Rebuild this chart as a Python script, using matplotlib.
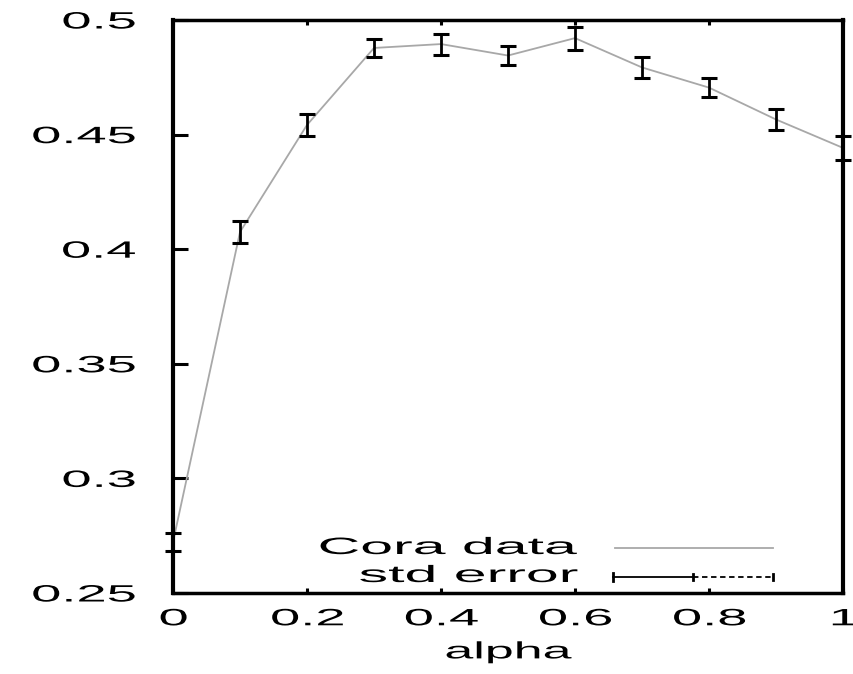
import matplotlib.pyplot as plt
from matplotlib.patheffects import AbstractPathEffect
from matplotlib.transforms import Affine2D
from matplotlib.lines import Line2D

# data
alpha = [0.0, 0.1, 0.2, 0.3, 0.4, 0.5, 0.6, 0.7, 0.8, 0.9, 1.0]
accuracy = [0.2722, 0.4075, 0.4542, 0.4878, 0.4895, 0.4845, 0.4921, 0.4793, 0.4705, 0.4566, 0.4442]
std_err = [0.0040, 0.0046, 0.0048, 0.0040, 0.0046, 0.0041, 0.0050, 0.0046, 0.0041, 0.0046, 0.0052]

xticks = [0, 0.2, 0.4, 0.6, 0.8, 1]
xtick_labels = ['0', '0.2', '0.4', '0.6', '0.8', '1']
yticks = [0.25, 0.3, 0.35, 0.4, 0.45, 0.5]
ytick_labels = ['0.25', '0.3', '0.35', '0.4', '0.45', '0.5']

W, H = 854, 674
FONT = 'Liberation Sans'
FS = 17


class Stretch(AbstractPathEffect):
    """draw text stretched horizontally (gnuplot style wide font)"""
    def __init__(self, sx=2.3, anchor=0.5):
        super().__init__()
        self.sx = sx
        self.anchor = anchor

    def draw_path(self, renderer, gc, tpath, affine, rgbFace=None):
        v = tpath.vertices
        if len(v):
            x0, x1 = v[:, 0].min(), v[:, 0].max()
        else:
            x0 = x1 = 0
        ax0 = x0 + (x1 - x0) * self.anchor
        t = Affine2D().translate(-ax0, 0).scale(self.sx, 1).translate(ax0, 0) + affine
        renderer.draw_path(gc, tpath, t, rgbFace)


def px(x, y):
    return x / W, 1 - y / H


fig = plt.figure(figsize=(W / 100, H / 100), dpi=100)
ax = fig.add_axes([173 / W, 1 - 593 / H, 670 / W, 573 / H])

# line + error bars
ax.plot(alpha, accuracy, color='#a8a8a8', linewidth=1.3, clip_on=False, zorder=2)
ax.errorbar(alpha, accuracy, yerr=std_err, fmt='none', ecolor='black',
            elinewidth=2, capsize=5.5, capthick=2.2, clip_on=False, zorder=3)

ax.set_xlim(0, 1)
ax.set_ylim(0.25, 0.5)

ax.set_xticks(xticks)
ax.set_xticklabels(xtick_labels, fontsize=FS, family=FONT)
ax.set_yticks(yticks)
ax.set_yticklabels(ytick_labels, fontsize=FS, family=FONT)

ax.tick_params(axis='y', direction='in', length=10.8, width=2.2, left=True, right=False, pad=27)
ax.tick_params(axis='x', direction='in', length=3.6, width=2.2, bottom=True, top=True, pad=11)

for lbl in ax.get_xticklabels():
    lbl.set_path_effects([Stretch(2.3, 0.5)])
for lbl in ax.get_yticklabels():
    lbl.set_path_effects([Stretch(2.3, 1.0)])

for side in ['left', 'right']:
    ax.spines[side].set_linewidth(3)
for side in ['top', 'bottom']:
    ax.spines[side].set_linewidth(2.5)

xl = ax.set_xlabel('alpha', fontsize=FS, family=FONT, labelpad=8)
xl.set_path_effects([Stretch(2.2, 0.5)])

# legend drawn by hand
x, y = px(577, 548)
t = fig.text(x, y, 'Cora data', fontsize=FS, family=FONT, ha='right', va='center')
t.set_path_effects([Stretch(2.5, 1.0)])
x, y = px(578, 576)
t = fig.text(x, y, 'std error', fontsize=FS, family=FONT, ha='right', va='center')
t.set_path_effects([Stretch(2.5, 1.0)])

fig.add_artist(Line2D([615 / W, 773 / W], [1 - 548 / H] * 2, color='#a8a8a8', linewidth=1.3))
ly = 1 - 577 / H
fig.add_artist(Line2D([613 / W, 693 / W], [ly, ly], color='black', linewidth=1.3))
fig.add_artist(Line2D([693 / W, 773 / W], [ly, ly], color='black', linewidth=1.3,
                      linestyle=(0, (3, 2))))
for xx, hh in [(613, 4), (693, 3), (773, 3)]:
    fig.add_artist(Line2D([xx / W] * 2, [ly - hh / H, ly + hh / H], color='black', linewidth=2))

fig.savefig('out.png', dpi=100)
